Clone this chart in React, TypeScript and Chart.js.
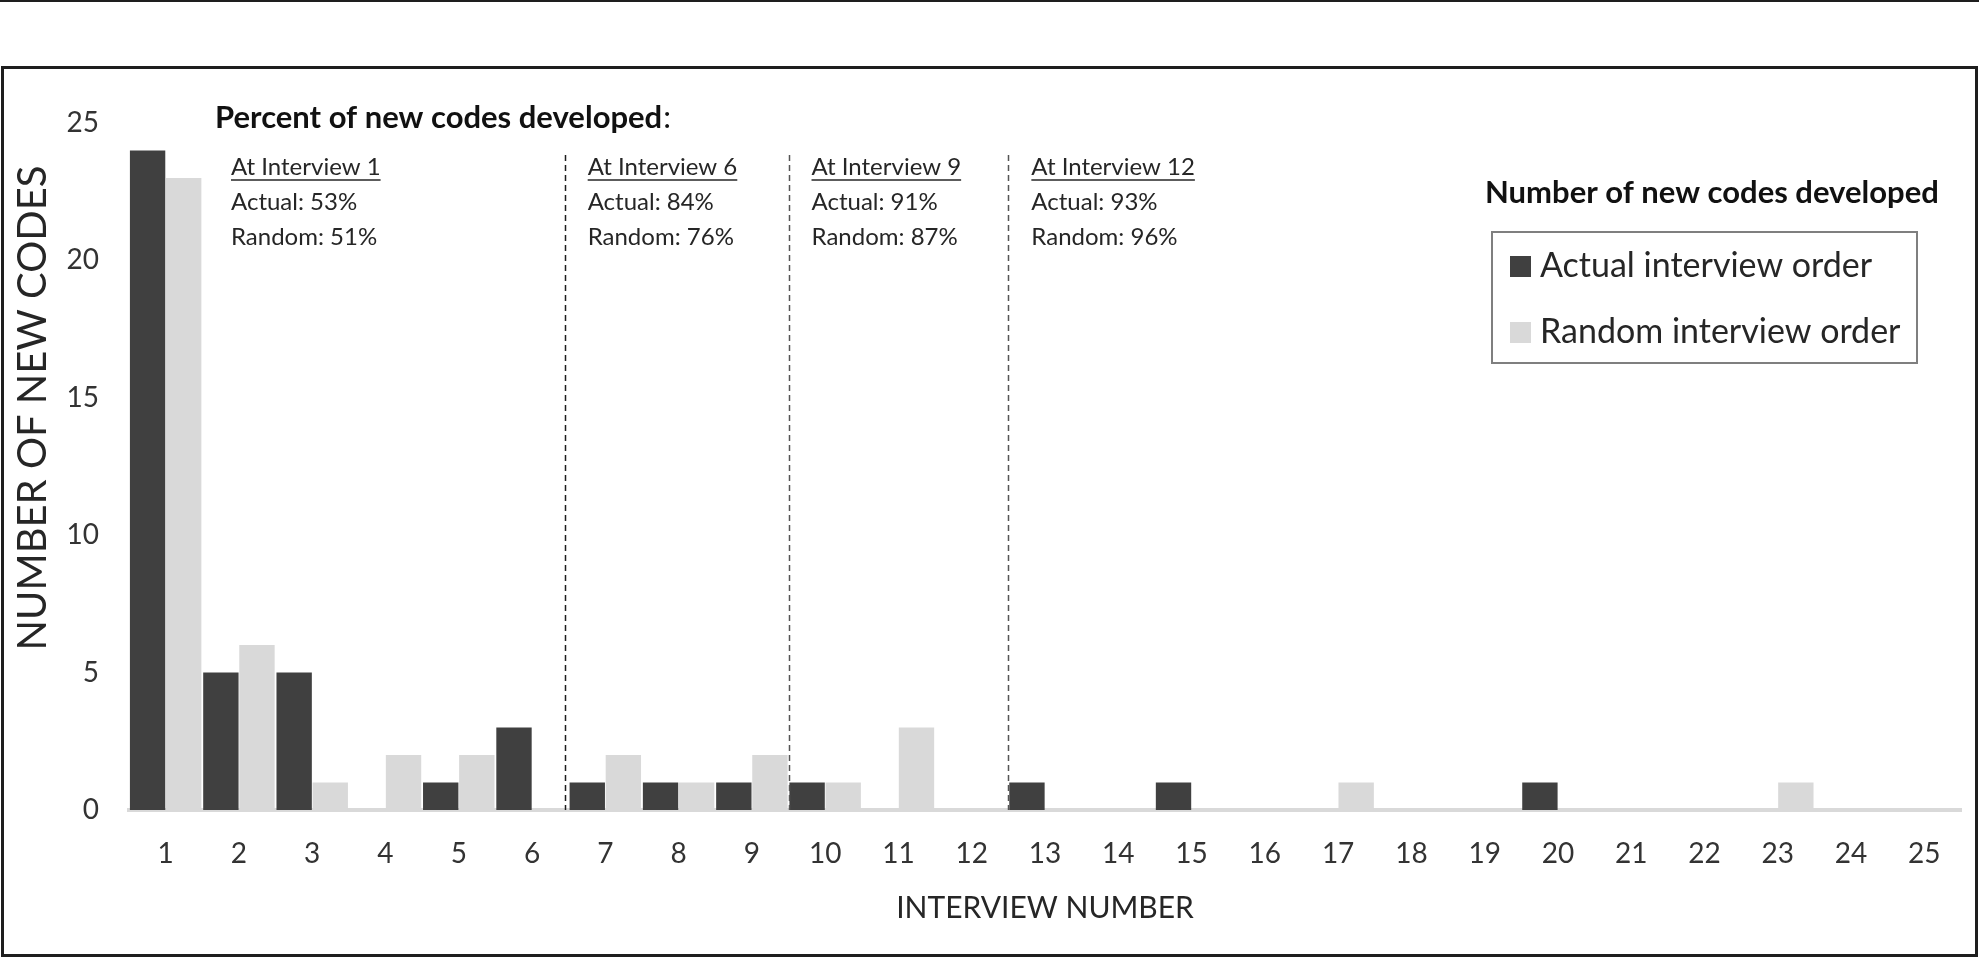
import React, { useEffect, useRef } from "react";
import { Chart, registerables } from "chart.js";

Chart.register(...registerables);

const W = 1979;
const H = 957;
const FONT = "Lato, 'Noto Sans', sans-serif";

const interviews = ["1","2","3","4","5","6","7","8","9","10","11","12","13","14","15","16","17","18","19","20","21","22","23","24","25"];
const actualOrder = [24,5,5,0,1,3,1,1,1,1,0,0,1,0,1,0,0,0,0,1,0,0,0,0,0];
const randomOrder = [23,6,1,2,2,0,2,1,2,1,3,0,0,0,0,0,1,0,0,0,0,0,1,0,0];
const seriesNames = ["Actual interview order", "Random interview order"];
const seriesColors = ["#404040", "#d9d9d9"];
const yTickStep = 5;
const yMax = 25;

const checkpoints = [1, 6, 9, 12];
const actualPercent = ["53%", "84%", "91%", "93%"];
const randomPercent = ["51%", "76%", "87%", "96%"];
const dividerAfter = [6, 9, 12];

const overlayPlugin = {
  id: "overlay",
  beforeDraw(chart: any) {
    const ctx = chart.ctx;
    ctx.save();
    ctx.fillStyle = "#ffffff";
    ctx.fillRect(0, 0, W, H);
    ctx.restore();
  },
  afterDatasetsDraw(chart: any) {
    const ctx = chart.ctx;
    const xs = chart.scales.x;
    const ys = chart.scales.y;
    ctx.save();

    // outer frame
    ctx.strokeStyle = "#1e1e1e";
    ctx.lineWidth = 2;
    ctx.beginPath();
    ctx.moveTo(0, 1);
    ctx.lineTo(W, 1);
    ctx.stroke();
    ctx.lineWidth = 3;
    ctx.strokeRect(2.5, 67.5, W - 5, H - 69);

    // dividers
    const baseY = ys.getPixelForValue(0);
    const dividerXs: number[] = [];
    dividerAfter.forEach((n, i) => {
      const px = (xs.getPixelForValue(n - 1) + xs.getPixelForValue(n)) / 2 - (i === 0 ? 4 : 0);
      dividerXs.push(px);
      ctx.save();
      ctx.setLineDash([6, 4]);
      ctx.strokeStyle = i === 0 ? "#1e1e1e" : "#555555";
      ctx.lineWidth = 1.5;
      ctx.beginPath();
      ctx.moveTo(Math.round(px) + 0.5, 155);
      ctx.lineTo(Math.round(px) + 0.5, baseY);
      ctx.stroke();
      ctx.restore();
    });

    // heading
    ctx.textBaseline = "middle";
    ctx.textAlign = "left";
    ctx.fillStyle = "#111111";
    ctx.font = `bold 31px ${FONT}`;
    const head = "Percent of new codes developed";
    ctx.fillText(head, 215, 118);
    const hw = ctx.measureText(head).width;
    ctx.font = `31px ${FONT}`;
    ctx.fillText(":", 215 + hw + 1, 118);

    // checkpoint notes
    checkpoints.forEach((c, i) => {
      const tx = i === 0 ? 231 : dividerXs[i - 1] + 23;
      ctx.fillStyle = "#262626";
      ctx.font = `24px ${FONT}`;
      const t1 = `At Interview ${c}`;
      ctx.fillText(t1, tx, 167);
      const w1 = ctx.measureText(t1).width;
      ctx.strokeStyle = "#262626";
      ctx.lineWidth = 1.5;
      ctx.beginPath();
      ctx.moveTo(tx, 180);
      ctx.lineTo(tx + w1, 180);
      ctx.stroke();
      ctx.fillText(`Actual: ${actualPercent[i]}`, tx, 202);
      ctx.fillText(`Random: ${randomPercent[i]}`, tx, 237);
    });

    // y title
    ctx.save();
    ctx.translate(33, 408);
    ctx.rotate(-Math.PI / 2);
    ctx.textAlign = "center";
    ctx.fillStyle = "#262626";
    ctx.font = `40px ${FONT}`;
    ctx.fillText("NUMBER OF NEW CODES", 0, 0);
    ctx.restore();

    // legend
    ctx.fillStyle = "#111111";
    ctx.font = `bold 31px ${FONT}`;
    ctx.textAlign = "left";
    ctx.fillText("Number of new codes developed", 1485, 193);
    ctx.strokeStyle = "#7f7f7f";
    ctx.lineWidth = 2;
    ctx.strokeRect(1492, 232, 425, 131);
    const ds = chart.data.datasets;
    const itemYs = [266, 332];
    ds.forEach((d: any, i: number) => {
      ctx.fillStyle = d.backgroundColor;
      ctx.fillRect(1510, itemYs[i] - 10, 21, 21);
      ctx.fillStyle = "#262626";
      ctx.font = `34px ${FONT}`;
      ctx.fillText(d.label, 1540, itemYs[i]);
    });

    ctx.restore();
  },
};

export default function App() {
  const ref = useRef<HTMLCanvasElement | null>(null);

  useEffect(() => {
    document.body.style.margin = "0";
    document.body.style.overflow = "hidden";
    if (!ref.current) return;
    const chart = new Chart(ref.current, {
      type: "bar",
      data: {
        labels: interviews,
        datasets: [
          { label: seriesNames[0], data: actualOrder, backgroundColor: seriesColors[0], borderWidth: 0, categoryPercentage: 0.985, barPercentage: 0.98 },
          { label: seriesNames[1], data: randomOrder, backgroundColor: seriesColors[1], borderWidth: 0, categoryPercentage: 0.985, barPercentage: 0.98 },
        ],
      },
      options: {
        responsive: false,
        animation: false,
        events: [],
        layout: { padding: { left: 0, top: 123, right: 18, bottom: 0 } },
        plugins: { legend: { display: false }, tooltip: { enabled: false }, title: { display: false } },
        scales: {
          x: {
            grid: { display: false, drawTicks: false },
            border: { display: true, color: "#d9d9d9", width: 4 },
            ticks: { font: { family: FONT, size: 28 }, color: "#333333", padding: 27, maxRotation: 0, autoSkip: false },
            title: { display: true, text: "INTERVIEW NUMBER", font: { family: FONT, size: 30 }, color: "#262626", padding: { top: 0, bottom: 31 } },
            afterFit(s: any) { s.height = 147; },
          },
          y: {
            min: 0,
            max: yMax,
            ticks: { stepSize: yTickStep, font: { family: FONT, size: 28 }, color: "#333333", padding: 30 },
            grid: { display: false, drawTicks: false },
            border: { display: false },
            afterFit(s: any) { s.width = 129; },
          },
        },
      },
      plugins: [overlayPlugin],
    } as any);
    return () => chart.destroy();
  }, []);

  return (
    <div style={{ width: W, height: H, position: "relative" }}>
      <canvas ref={ref} width={W} height={H} style={{ display: "block", width: W, height: H }} />
    </div>
  );
}
